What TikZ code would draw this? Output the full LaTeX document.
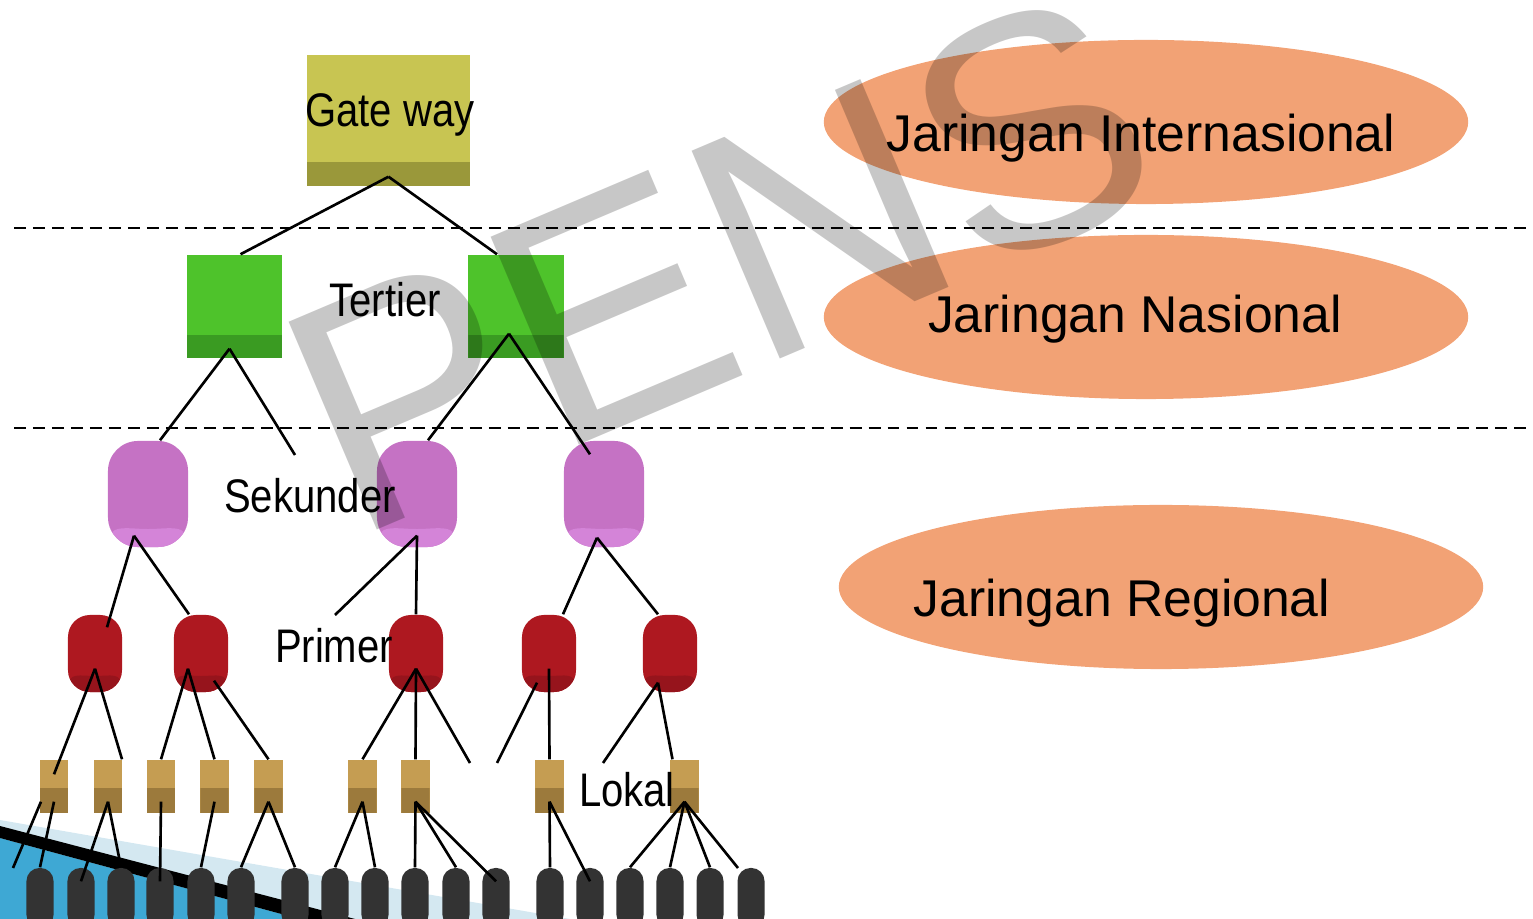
\documentclass[tikz,border=0pt]{standalone}
\usepackage{fontspec}
\setmainfont{Liberation Sans}
\newfontfamily\narrowfont[FakeStretch=0.85]{Liberation Sans}
\usetikzlibrary{shapes.geometric,calc}
\definecolor{gwfront}{RGB}{200,197,82}
\definecolor{gwside}{RGB}{154,152,58}
\definecolor{terfront}{RGB}{78,195,43}
\definecolor{terside}{RGB}{58,155,34}
\definecolor{sekfill}{RGB}{197,114,196}
\definecolor{sekshade}{RGB}{212,132,216}
\definecolor{prifill}{RGB}{174,24,32}
\definecolor{prishade}{RGB}{150,20,28}
\definecolor{lokfront}{RGB}{197,157,82}
\definecolor{lokside}{RGB}{156,122,60}
\definecolor{subfill}{RGB}{51,51,51}
\definecolor{ovalfill}{RGB}{242,162,117}
\definecolor{decolight}{RGB}{212,232,241}
\definecolor{decoblue}{RGB}{62,168,212}
\tikzset{
  gatebox/.style={rectangle, fill=gwfront, inner sep=0pt,
                  minimum width=1.63cm, minimum height=1.31cm,
                  path picture={\fill[gwside] (path picture bounding box.south west)
                    rectangle ([yshift=0.24cm]path picture bounding box.south east);}},
  terbox/.style={rectangle, fill=terfront, inner sep=0pt,
                 minimum width=0.95cm, minimum height=1.03cm,
                 path picture={\fill[terside] (path picture bounding box.south west)
                   rectangle ([yshift=0.23cm]path picture bounding box.south east);}},
  lokbox/.style={rectangle, fill=lokfront, inner sep=0pt,
                 minimum width=0.28cm, minimum height=0.53cm,
                 path picture={\fill[lokside] (path picture bounding box.south west)
                   rectangle ([yshift=0.25cm]path picture bounding box.south east);}},
  sekcyl/.style={rectangle, rounded corners=0.3cm, fill=sekfill, inner sep=0pt,
                 minimum width=0.8cm, minimum height=1.06cm,
                 path picture={\fill[sekshade] ([yshift=0.32cm]path picture bounding box.south west)
                   arc[start angle=180, end angle=360, x radius=0.4cm, y radius=0.14cm]
                   |- (path picture bounding box.south west) -- cycle;}},
  pricyl/.style={rectangle, rounded corners=0.22cm, fill=prifill, inner sep=0pt,
                 minimum width=0.54cm, minimum height=0.77cm,
                 path picture={\fill[prishade] ([yshift=0.26cm]path picture bounding box.south west)
                   arc[start angle=180, end angle=360, x radius=0.27cm, y radius=0.1cm]
                   |- (path picture bounding box.south west) -- cycle;}},
  subcyl/.style={rectangle, rounded corners=0.13cm, fill=subfill, inner sep=0pt,
                 minimum width=0.27cm, minimum height=0.6cm},
  oval/.style={ellipse, fill=ovalfill, inner sep=0pt,
               minimum width=6.44cm, minimum height=1.64cm},
  ovaltext/.style={anchor=base, inner sep=0pt, font=\fontsize{14.7}{18}\selectfont},
  tiertext/.style={anchor=base, inner sep=0pt, font=\narrowfont\fontsize{13.4}{16}\selectfont},
  link/.style={line width=0.75pt},
  layer/.style={line width=0.7pt, dash pattern=on 3.4pt off 2pt},
}
\begin{document}
\begin{tikzpicture}[x=0.01cm, y=-0.01cm]
  \useasboundingbox (0,0) rectangle (1533,919);
  % corner decoration
  \fill[decolight] (0,820) -- (570,919) -- (0,919) -- cycle;
  \fill[decoblue] (0,838) -- (300,919) -- (0,919) -- cycle;
  \fill[black] (0,826) -- (355,919) -- (300,919) -- (0,838) -- cycle;
  % layer separators
  \draw[layer] (14,228) -- (1533,228);
  \draw[layer] (14,428) -- (1533,428);
  % network levels
  \node[oval] (intl) at (1146,122) {};
  \node[oval] (nas) at (1146,317) {};
  \node[oval] (reg) at (1161,587) {};
  \node[ovaltext] (intltext) at (1141,152) {Jaringan Internasional};
  \node[ovaltext] (nastext) at (1135,333) {Jaringan Nasional};
  \node[ovaltext] (regtext) at (1122,617) {Jaringan Regional};
  % exchanges
  \node[gatebox] (gateway) at (388.5,120.5) {};
  \node[terbox] (ter1) at (234.5,306.5) {};
  \node[terbox] (ter2) at (516,306.5) {};
  \node[sekcyl] (sek1) at (148,494) {};
  \node[sekcyl] (sek2) at (417,494) {};
  \node[sekcyl] (sek3) at (604,494) {};
  \node[pricyl] (pri1) at (95,653.5) {};
  \node[pricyl] (pri2) at (201,653.5) {};
  \node[pricyl] (pri3) at (416,653.5) {};
  \node[pricyl] (pri4) at (549,653.5) {};
  \node[pricyl] (pri5) at (670,653.5) {};
  \node[lokbox] (lok1) at (54,786.5) {};
  \node[lokbox] (lok2) at (108,786.5) {};
  \node[lokbox] (lok3) at (161,786.5) {};
  \node[lokbox] (lok4) at (214.5,786.5) {};
  \node[lokbox] (lok5) at (268.5,786.5) {};
  \node[lokbox] (lok6) at (362.5,786.5) {};
  \node[lokbox] (lok7) at (415.5,786.5) {};
  \node[lokbox] (lok8) at (549.5,786.5) {};
  \node[lokbox] (lok9) at (684.5,786.5) {};
  % subscribers
  \node[subcyl] (sub1) at (40,898) {};
  \node[subcyl] (sub2) at (81,898) {};
  \node[subcyl] (sub3) at (121,898) {};
  \node[subcyl] (sub4) at (160,898) {};
  \node[subcyl] (sub5) at (201,898) {};
  \node[subcyl] (sub6) at (241,898) {};
  \node[subcyl] (sub7) at (295,898) {};
  \node[subcyl] (sub8) at (335,898) {};
  \node[subcyl] (sub9) at (375,898) {};
  \node[subcyl] (sub10) at (415,898) {};
  \node[subcyl] (sub11) at (456,898) {};
  \node[subcyl] (sub12) at (496,898) {};
  \node[subcyl] (sub13) at (550,898) {};
  \node[subcyl] (sub14) at (590,898) {};
  \node[subcyl] (sub15) at (630,898) {};
  \node[subcyl] (sub16) at (670,898) {};
  \node[subcyl] (sub17) at (710,898) {};
  \node[subcyl] (sub18) at (751,898) {};
  % loose line ends
  \coordinate (ter1end) at (295,455);
  \coordinate (sek2end) at (335,615);
  \coordinate (pri3end) at (470,763);
  \coordinate (pri4end) at (497,763);
  \coordinate (pri5end) at (603,763);
  \coordinate (lok1end) at (13,868);
  \coordinate (lok9end) at (738,868);
  % links
  \draw[link] ([yshift=0.1cm]gateway.south) -- ([xshift=0.06cm]ter1.north);
  \draw[link] ([yshift=0.1cm]gateway.south) -- ([xshift=-0.19cm]ter2.north);
  \draw[link] ([xshift=-0.05cm,yshift=0.1cm]ter1.south) -- ([xshift=0.12cm]sek1.north);
  \draw[link] ([xshift=-0.05cm,yshift=0.1cm]ter1.south) -- (ter1end);
  \draw[link] ([xshift=-0.07cm,yshift=0.25cm]ter2.south) -- ([xshift=0.11cm]sek2.north);
  \draw[link] ([xshift=-0.07cm,yshift=0.25cm]ter2.south) -- ([xshift=-0.14cm,yshift=-0.14cm]sek3.north);
  \draw[link] ([xshift=-0.14cm,yshift=0.12cm]sek1.south) -- ([xshift=0.12cm,yshift=-0.13cm]pri1.north);
  \draw[link] ([xshift=-0.14cm,yshift=0.12cm]sek1.south) -- ([xshift=-0.12cm]pri2.north);
  \draw[link] ([yshift=0.12cm]sek2.south) -- (sek2end);
  \draw[link] ([yshift=0.12cm]sek2.south) -- (pri3.north);
  \draw[link] ([xshift=-0.07cm,yshift=0.1cm]sek3.south) -- ([xshift=0.14cm]pri4.north);
  \draw[link] ([xshift=-0.07cm,yshift=0.1cm]sek3.south) -- ([xshift=-0.12cm]pri5.north);
  \draw[link] ([yshift=0.24cm]pri1.south) -- ([yshift=-0.15cm]lok1.north);
  \draw[link] ([yshift=0.24cm]pri1.south) -- ([xshift=0.14cm]lok2.north);
  \draw[link] ([xshift=-0.13cm,yshift=0.24cm]pri2.south) -- (lok3.north);
  \draw[link] ([xshift=-0.13cm,yshift=0.24cm]pri2.south) -- (lok4.north);
  \draw[link] ([xshift=0.13cm,yshift=0.12cm]pri2.south) -- (lok5.north);
  \draw[link] ([yshift=0.24cm]pri3.south) -- (lok6.north);
  \draw[link] ([yshift=0.24cm]pri3.south) -- (lok7.north);
  \draw[link] ([yshift=0.24cm]pri3.south) -- (pri3end);
  \draw[link] ([xshift=-0.12cm,yshift=0.1cm]pri4.south) -- (pri4end);
  \draw[link] ([yshift=0.24cm]pri4.south) -- (lok8.north);
  \draw[link] ([xshift=-0.12cm,yshift=0.1cm]pri5.south) -- (pri5end);
  \draw[link] ([xshift=-0.12cm,yshift=0.1cm]pri5.south) -- ([xshift=-0.12cm]lok9.north);
  \draw[link] ([xshift=-0.13cm,yshift=0.12cm]lok1.south) -- (lok1end);
  \draw[link] ([yshift=0.12cm]lok1.south) -- (sub1.north);
  \draw[link] ([yshift=0.12cm]lok2.south) -- ([yshift=-0.14cm]sub2.north);
  \draw[link] ([yshift=0.12cm]lok2.south) -- (sub3.north);
  \draw[link] ([yshift=0.12cm]lok3.south) -- ([yshift=-0.14cm]sub4.north);
  \draw[link] ([yshift=0.12cm]lok4.south) -- (sub5.north);
  \draw[link] ([yshift=0.12cm]lok5.south) -- (sub6.north);
  \draw[link] ([yshift=0.12cm]lok5.south) -- (sub7.north);
  \draw[link] ([yshift=0.12cm]lok6.south) -- (sub8.north);
  \draw[link] ([yshift=0.12cm]lok6.south) -- (sub9.north);
  \draw[link] ([yshift=0.12cm]lok7.south) -- (sub10.north);
  \draw[link] ([yshift=0.12cm]lok7.south) -- (sub11.north);
  \draw[link] ([yshift=0.12cm]lok7.south) -- ([yshift=-0.14cm]sub12.north);
  \draw[link] ([yshift=0.12cm]lok8.south) -- (sub13.north);
  \draw[link] ([yshift=0.12cm]lok8.south) -- ([yshift=-0.14cm]sub14.north);
  \draw[link] ([yshift=0.12cm]lok9.south) -- (sub15.north);
  \draw[link] ([yshift=0.12cm]lok9.south) -- (sub16.north);
  \draw[link] ([yshift=0.12cm]lok9.south) -- (sub17.north);
  \draw[link] ([yshift=0.12cm]lok9.south) -- (lok9end);
  % level names
  \node[tiertext] (gatetext) at (390,127) {Gate way};
  \node[tiertext] (tertext) at (385,317) {Tertier};
  \node[tiertext] (sektext) at (310,513) {Sekunder};
  \node[tiertext] (pritext) at (334,663) {Primer};
  \node[tiertext] (loktext) at (627,807) {Lokal};
  % watermark
  \node[rotate=23, anchor=base west, inner sep=0pt, text=black, text opacity=0.22,
        font=\fontsize{93.3}{100}\selectfont] (mark) at (352,541) {PENS};
\end{tikzpicture}
\end{document}
